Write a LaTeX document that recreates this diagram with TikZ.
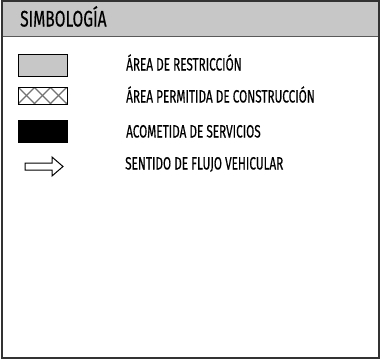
\documentclass[tikz,border=0pt]{standalone}
\usepackage{fontspec}
\setmainfont[FakeStretch=0.66,FakeBold=0.4]{Fira Sans}
\newfontfamily\titlefont[FakeStretch=0.69,FakeBold=0.4]{Fira Sans}
\begin{document}
\begin{tikzpicture}[x=1pt,y=-1pt,
  lbl/.style={anchor=base west,inner sep=0pt,font=\fontsize{17.8}{18}\selectfont},
  symbox/.style={draw=black,line width=1pt}]
\useasboundingbox (0,0) rectangle (381,360);
\fill[white] (0,0) rectangle (381,360);
% header
\fill[black!22] (2,1) rectangle (379,36.5);
\draw[black!65,line width=1.6pt] (2,36.5) -- (379,36.5);
\node[anchor=base west,inner sep=0pt,font=\titlefont\fontsize{22.5}{24}\selectfont] (title) at (20,26.5) {SIMBOLOGÍA};
% frame
\draw[black!80,line width=1.5pt] (2,1) rectangle (379,358);
% symbol 1
\node[symbox,fill=black!22,minimum width=49pt,minimum height=22pt,inner sep=0pt] (s1) at (42.5,65) {};
\node[lbl] (t1) at (126,70.5) {ÁREA DE RESTRICCIÓN};
% symbol 2 (hatched)
\begin{scope}
\clip (18,87) rectangle (67,104);
\foreach \i in {-2,...,6} {
  \draw[black!55,line width=1.2pt] (18+16*\i,87) -- ++(17,17);
  \draw[black!55,line width=1.2pt] (18+16*\i,104) -- ++(17,-17);
}
\end{scope}
\node[symbox,minimum width=49pt,minimum height=17pt,inner sep=0pt] (s2) at (42.5,95.5) {};
\node[lbl] (t2) at (126,102.5) {ÁREA PERMITIDA DE CONSTRUCCIÓN};
% symbol 3
\node[symbox,fill=black,minimum width=49pt,minimum height=22pt,inner sep=0pt] (s3) at (42.5,131) {};
\node[lbl] (t3) at (126,137.5) {ACOMETIDA DE SERVICIOS};
% symbol 4 arrow
\draw[black,line width=1pt,line join=miter] (25,163) -- (52,163) -- (52,157) -- (63,166.5) -- (52,176) -- (52,170) -- (25,170) -- cycle;
\node[lbl] (t4) at (125,169.5) {SENTIDO DE FLUJO VEHICULAR};
\end{tikzpicture}
\end{document}
